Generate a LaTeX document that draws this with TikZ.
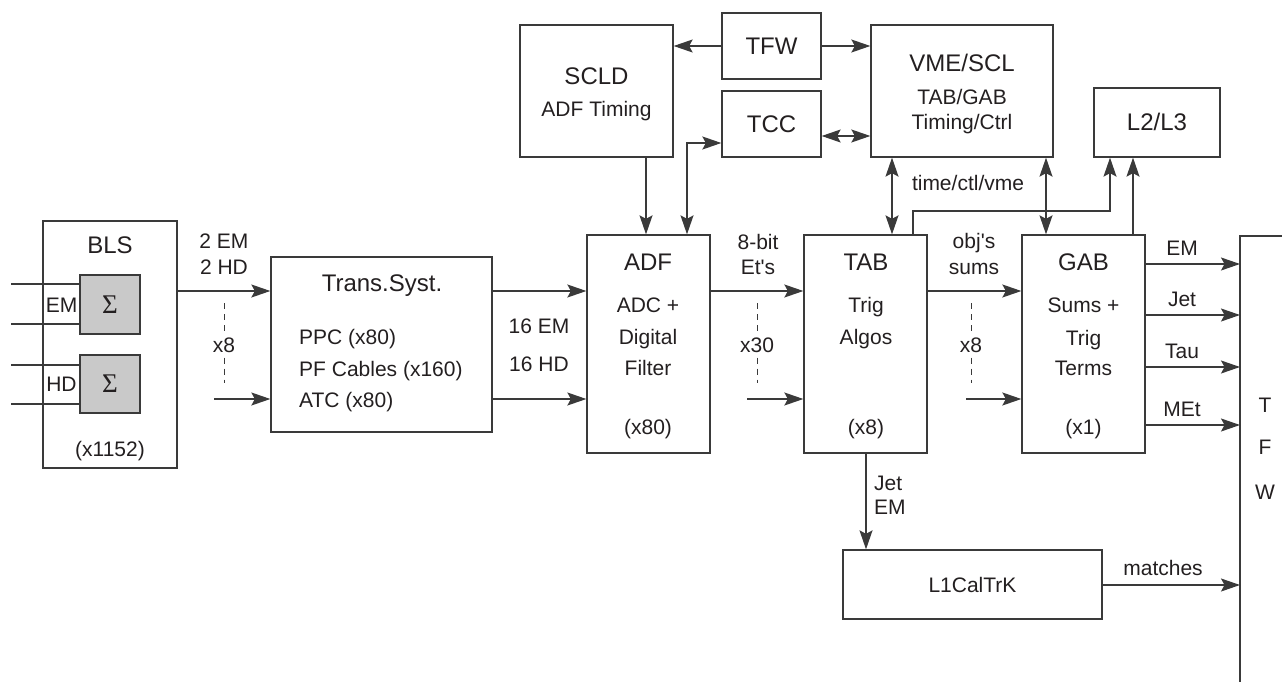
\documentclass[tikz,border=0pt]{standalone}
\usepackage{fontspec}
\setmainfont{Liberation Sans}
\newfontfamily\sigfont{Liberation Serif}
\usetikzlibrary{arrows.meta}
\definecolor{ln}{HTML}{3A3A3A}
\definecolor{tx}{HTML}{231F20}
\definecolor{gf}{HTML}{C9C9C9}
\begin{document}
\begin{tikzpicture}[x=1pt,y=-1pt,
  box/.style={draw=ln, line width=1.3pt, rectangle, inner sep=0pt},
  body/.style={text=tx, font=\fontsize{21}{25}\selectfont, inner sep=0pt, text height=15pt, text depth=0pt},
  ttl/.style={text=tx, font=\fontsize{24}{28}\selectfont, inner sep=0pt, text height=17pt, text depth=0pt},
  sig/.style={box, fill=gf, minimum width=60pt, minimum height=59pt, text=tx, font=\sigfont\fontsize{27}{27}\selectfont},
  conn/.style={draw=ln, line width=1.3pt},
  arr/.style={conn, -{Stealth[length=19pt,width=13pt,inset=3.5pt]}},
  darr/.style={conn, {Stealth[length=19pt,width=13pt,inset=3.5pt]}-{Stealth[length=19pt,width=13pt,inset=3.5pt]}},
  dsh/.style={draw=ln, line width=1pt, dash pattern=on 6pt off 5pt},
  gap/.style={body, inner ysep=5pt}]
\useasboundingbox (0,0) rectangle (1282,682);

% ---- boxes ----
\node[box, minimum width=134pt, minimum height=247pt] (bls) at (110,344.5) {};
\node[sig] (emsig) at (110,304.5) {Σ};
\node[sig, minimum height=58pt] (hdsig) at (110,384) {Σ};
\node[box, minimum width=221pt, minimum height=175pt] (trans) at (381.5,344.5) {};
\node[box, minimum width=123pt, minimum height=218pt] (adf) at (648.5,344) {};
\node[box, minimum width=153pt, minimum height=132pt] (scld) at (596.5,91) {};
\node[box, ttl, minimum width=99pt, minimum height=66pt] (tfw) at (771.5,46) {TFW};
\node[box, ttl, minimum width=99pt, minimum height=66pt] (tcc) at (771.5,124) {TCC};
\node[box, minimum width=182pt, minimum height=132pt] (vme) at (962,91) {};
\node[box, ttl, minimum width=126pt, minimum height=69pt] (l23) at (1157,122.5) {L2/L3};
\node[box, minimum width=123pt, minimum height=218pt] (tab) at (865.5,344) {};
\node[box, minimum width=123pt, minimum height=218pt] (gab) at (1083.5,344) {};
\node[box, body, minimum width=259pt, minimum height=69pt] (l1c) at (972.5,584.5) {L1CalTrK};

% ---- right TFW bar ----
\coordinate (tfwtop) at (1240,236);
\coordinate (tfwbot) at (1240,682);
\coordinate (tfwedge) at (1282,236);
\draw[conn] (tfwedge) -- (tfwtop) -- (tfwbot);
\node[body] (tT) at (1265,405) {T};
\node[body] (tF) at (1265,447) {F};
\node[body] (tW) at (1265,492) {W};

% ---- box texts ----
\node[ttl] (tbls) at (110,245) {BLS};
\node[body] (tem) at (61.5,305) {EM};
\node[body] (thd) at (61.5,384) {HD};
\node[body] (tx1152) at (110,449) {(x1152)};

\node[ttl] (ttrans) at (382,283) {Trans.Syst.};
\node[body, anchor=west] (tppc) at (299,337) {PPC (x80)};
\node[body, anchor=west] (tpf) at (299,369) {PF Cables (x160)};
\node[body, anchor=west] (tatc) at (299,400) {ATC (x80)};

\node[ttl] (tadf) at (648,262) {ADF};
\node[body] (tadc) at (648,305) {ADC +};
\node[body] (tdig) at (648,337) {Digital};
\node[body] (tfil) at (648,368) {Filter};
\node[body] (tx80) at (648,427) {(x80)};

\node[ttl] (tscld) at (596.5,76) {SCLD};
\node[body] (tadft) at (596.5,109) {ADF Timing};

\node[ttl] (tvme) at (962,63) {VME/SCL};
\node[body] (ttg) at (962,97) {TAB/GAB};
\node[body] (ttc) at (962,122) {Timing/Ctrl};

\node[ttl] (ttab) at (866,262) {TAB};
\node[body] (ttrig) at (866,305) {Trig};
\node[body] (talg) at (866,337) {Algos};
\node[body] (tx8b) at (866,427) {(x8)};

\node[ttl] (tgab) at (1083.5,262) {GAB};
\node[body] (tsums) at (1083.5,305) {Sums +};
\node[body] (ttrig2) at (1083.5,338) {Trig};
\node[body] (tterms) at (1083.5,368) {Terms};
\node[body] (tx1) at (1083.5,427) {(x1)};

% ---- Sigma inputs ----
\coordinate (i1) at (11,284);
\coordinate (i2) at (11,324);
\coordinate (i3) at (11,365);
\coordinate (i4) at (11,404);
\draw[conn] (i1) -- (i1 -| emsig.west);
\draw[conn] (i2) -- (i2 -| emsig.west);
\draw[conn] (i3) -- (i3 -| hdsig.west);
\draw[conn] (i4) -- (i4 -| hdsig.west);

% ---- horizontal data path ----
\draw[arr] (bls.east |- 0,291) -- (trans.west |- 0,291);
\coordinate (s1) at (214,399);
\draw[arr] (s1) -- (trans.west |- s1);
\node[body] (l2em) at (224,241) {2 EM};
\node[body] (l2hd) at (224,267) {2 HD};
\node[gap] (lx8a) at (224,345) {x8};
\coordinate (d1t) at (224,303);
\coordinate (d1b) at (224,383);
\draw[dsh] (d1t) -- (lx8a.north);
\draw[dsh] (lx8a.south) -- (d1b);

\draw[arr] (trans.east |- 0,291) -- (adf.west |- 0,291);
\draw[arr] (trans.east |- 0,399) -- (adf.west |- 0,399);
\node[body] (l16em) at (539,326) {16 EM};
\node[body] (l16hd) at (539,364) {16 HD};

\draw[arr] (adf.east |- 0,291) -- (tab.west |- 0,291);
\coordinate (s2) at (747,399);
\draw[arr] (s2) -- (tab.west |- s2);
\node[body] (l8bit) at (758,242) {8-bit};
\node[body] (lets) at (758,267) {Et\textquotesingle s};
\node[gap] (lx30) at (757,345) {x30};
\coordinate (d2t) at (757,303);
\coordinate (d2b) at (757,383);
\draw[dsh] (d2t) -- (lx30.north);
\draw[dsh] (lx30.south) -- (d2b);

\draw[arr] (tab.east |- 0,291) -- (gab.west |- 0,291);
\coordinate (s3) at (966,399);
\draw[arr] (s3) -- (gab.west |- s3);
\node[body] (lobj) at (974,241) {obj\textquotesingle s};
\node[body] (lsums) at (974,267) {sums};
\node[gap] (lx8b) at (971,345) {x8};
\coordinate (d3t) at (971,303);
\coordinate (d3b) at (971,383);
\draw[dsh] (d3t) -- (lx8b.north);
\draw[dsh] (lx8b.south) -- (d3b);

% ---- GAB outputs ----
\draw[arr] (gab.east |- 0,264) -- (tfwtop |- 0,264);
\draw[arr] (gab.east |- 0,315) -- (tfwtop |- 0,315);
\draw[arr] (gab.east |- 0,367) -- (tfwtop |- 0,367);
\draw[arr] (gab.east |- 0,425) -- (tfwtop |- 0,425);
\node[body] (loem) at (1182,248) {EM};
\node[body] (lojet) at (1182,299) {Jet};
\node[body] (lotau) at (1182,351) {Tau};
\node[body] (lomet) at (1182,409) {MEt};

% ---- L1CalTrK ----
\draw[arr] (tab.south -| 866,0) -- (l1c.north -| 866,0);
\node[body, anchor=west] (ljet) at (874,483) {Jet};
\node[body, anchor=west] (ljem) at (874,507) {EM};
\draw[arr] (l1c.east |- 0,585) -- (tfwtop |- 0,585);
\node[body] (lmatch) at (1163,568) {matches};

% ---- control connections ----
\draw[arr] (tfw.west) -- (scld.east |- tfw.west);
\draw[arr] (tfw.east) -- (vme.west |- tfw.east);
\draw[darr] (tcc.east |- 0,136) -- (vme.west |- 0,136);
\draw[arr] (scld.south -| 646,0) -- (adf.north -| 646,0);
\draw[darr] (adf.north -| 687,0) |- (tcc.west |- 0,143);
\draw[darr] (vme.south -| 892,0) -- (tab.north -| 892,0);
\draw[darr] (vme.south -| 1046,0) -- (gab.north -| 1046,0);
\coordinate (bend) at (913,211);
\draw[arr] (tab.north -| bend) -- (bend) -| (l23.south -| 1110,0);
\draw[arr] (gab.north -| 1133,0) -- (l23.south -| 1133,0);
\node[body] (ltcv) at (968,183) {time/ctl/vme};
\end{tikzpicture}
\end{document}
